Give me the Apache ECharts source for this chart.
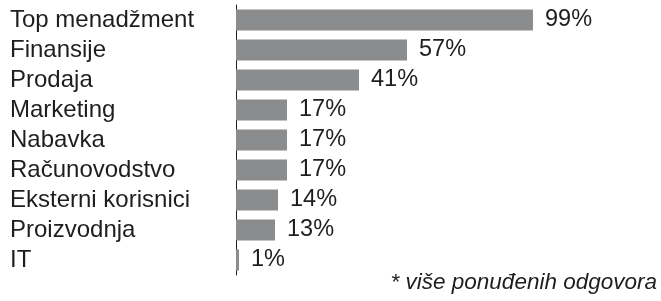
<!DOCTYPE html>
<html>
<head>
<meta charset="utf-8">
<script src="https://cdn.jsdelivr.net/npm/echarts@6/dist/echarts.min.js"></script>
<style>
    html, body { margin: 0; padding: 0; background: #fff; }
    #chart { width: 661px; height: 301px; }
</style>
</head>
<body>
<div id="chart"></div>
<script>
    var categories = ["Top menadžment", "Finansije", "Prodaja", "Marketing", "Nabavka", "Računovodstvo", "Eksterni korisnici", "Proizvodnja", "IT"];
    var values = [99, 57, 41, 17, 17, 17, 14, 13, 1];
    var footnote = "* više ponuđenih odgovora";

    var font = "Liberation Sans",
        ink = "#1e1e1e";

    var chart = echarts.init(document.getElementById("chart"));
    chart.setOption({
        animation: false,
        title: {
            text: footnote,
            right: 4,
            top: 271,
            padding: 0,
            textStyle: {
                fontFamily: font,
                fontStyle: "italic",
                fontWeight: "normal",
                fontSize: 22.5,
                color: ink
            }
        },
        grid: {
            left: 236,
            right: 125,
            top: 5,
            bottom: 26
        },
        xAxis: {
            type: "value",
            min: 0,
            max: 100,
            show: false
        },
        yAxis: {
            type: "category",
            data: categories,
            inverse: true,
            axisLine: {
                show: true,
                lineStyle: { color: ink, width: 1 }
            },
            axisTick: { show: false },
            axisLabel: {
                interval: 0,
                hideOverlap: false,
                align: "left",
                margin: 226,
                fontFamily: font,
                fontSize: 24,
                color: ink
            }
        },
        series: [{
            type: "bar",
            data: values,
            barCategoryGap: "30%",
            itemStyle: { color: "#8b8c8e" },
            label: {
                show: true,
                position: "right",
                distance: 12,
                formatter: "{c}%",
                fontFamily: font,
                fontSize: 23.5,
                color: ink
            }
        }]
    });
</script>
</body>
</html>
